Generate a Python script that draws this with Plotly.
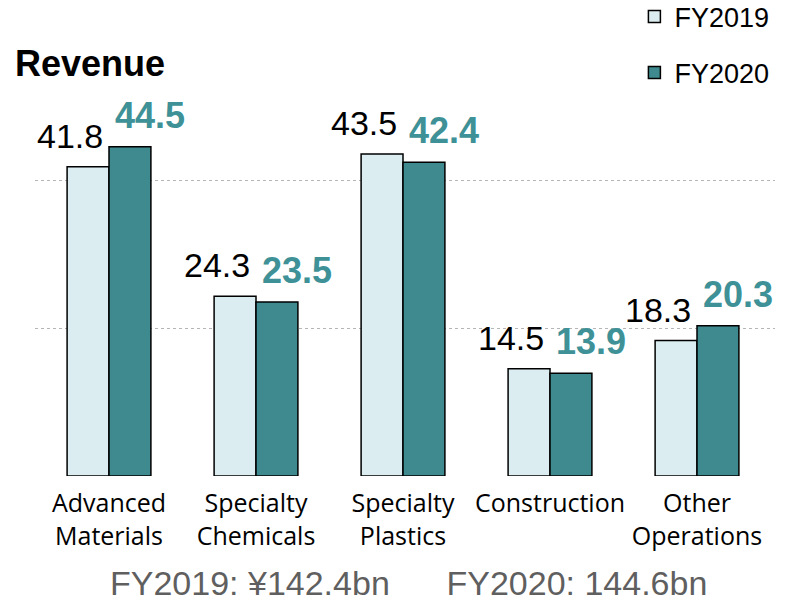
import plotly.graph_objects as go

categories = ["Advanced<br>Materials", "Specialty<br>Chemicals", "Specialty<br>Plastics",
              "Construction", "Other<br>Operations"]
fy2019 = [41.8, 24.3, 43.5, 14.5, 18.3]
fy2020 = [44.5, 23.5, 42.4, 13.9, 20.3]
series_names = ["FY2019", "FY2020"]
totals_text = ["FY2019: ¥142.4bn", "FY2020: 144.6bn"]
title_text = "Revenue"

light = "#DBEDF0"
teal = "#3E8A8E"
teal_text = "#3E9196"

fig = go.Figure()
fig.add_trace(go.Bar(x=categories, y=fy2019, name=series_names[0], legendgroup="a",
                     marker=dict(color=light, line=dict(color="black", width=1.5))))
fig.add_trace(go.Bar(x=categories, y=fy2020, name=series_names[1], legendgroup="b",
                     marker=dict(color=teal, line=dict(color="black", width=1.5))))

for c, v in zip(categories, fy2019):
    fig.add_annotation(x=c, y=v, xref="x", yref="y", text=f"{v:.1f}", showarrow=False,
                       xshift=-39, yanchor="bottom", yshift=10,
                       font=dict(family="Liberation Sans, Arial", size=34, color="black"))
for c, v in zip(categories, fy2020):
    fig.add_annotation(x=c, y=v, xref="x", yref="y", text=f"<b>{v:.1f}</b>", showarrow=False,
                       xshift=41, yanchor="bottom", yshift=9,
                       font=dict(family="Liberation Sans, Arial", size=36, color=teal_text))

fig.add_annotation(x=(108 - 35) / 740, y=-0.29, xref="paper", yref="paper", xanchor="left", yanchor="middle",
                   text=("\u00a0" * 6).join(totals_text), showarrow=False,
                   font=dict(family="Liberation Sans, Arial", size=34, color="#5f5f5f"))

fig.update_layout(
    width=792, height=601,
    margin=dict(l=35, r=17, t=106, b=125, autoexpand=False),
    paper_bgcolor="white", plot_bgcolor="white",
    barmode="group", bargap=0.43, bargroupgap=0,
    title=dict(text=f"<b>{title_text}</b>", x=15/792, xref="container", xanchor="left",
               y=1-63/601, yref="container", yanchor="middle",
               font=dict(family="Liberation Sans, Arial", size=36, color="black")),
    legend=dict(x=0.81, y=1.307, xanchor="left", yanchor="top", xref="paper", yref="paper",
                font=dict(family="Liberation Sans, Arial", size=27, color="black"),
                tracegroupgap=18, traceorder="grouped", bgcolor="rgba(0,0,0,0)"),
    showlegend=True,
)
fig.update_xaxes(showline=False, ticks="", ticklabelstandoff=10,
                 tickfont=dict(family="Open Sans", size=25, color="black"))
fig.update_yaxes(range=[0, 50], tickvals=[0, 20, 40], showticklabels=False, zeroline=False,
                 showgrid=True, gridcolor="#b5b5b5", griddash="dot", gridwidth=1)

fig.write_html("out.html", config={"displayModeBar": False},
               post_script="document.body.style.margin='0px';")
